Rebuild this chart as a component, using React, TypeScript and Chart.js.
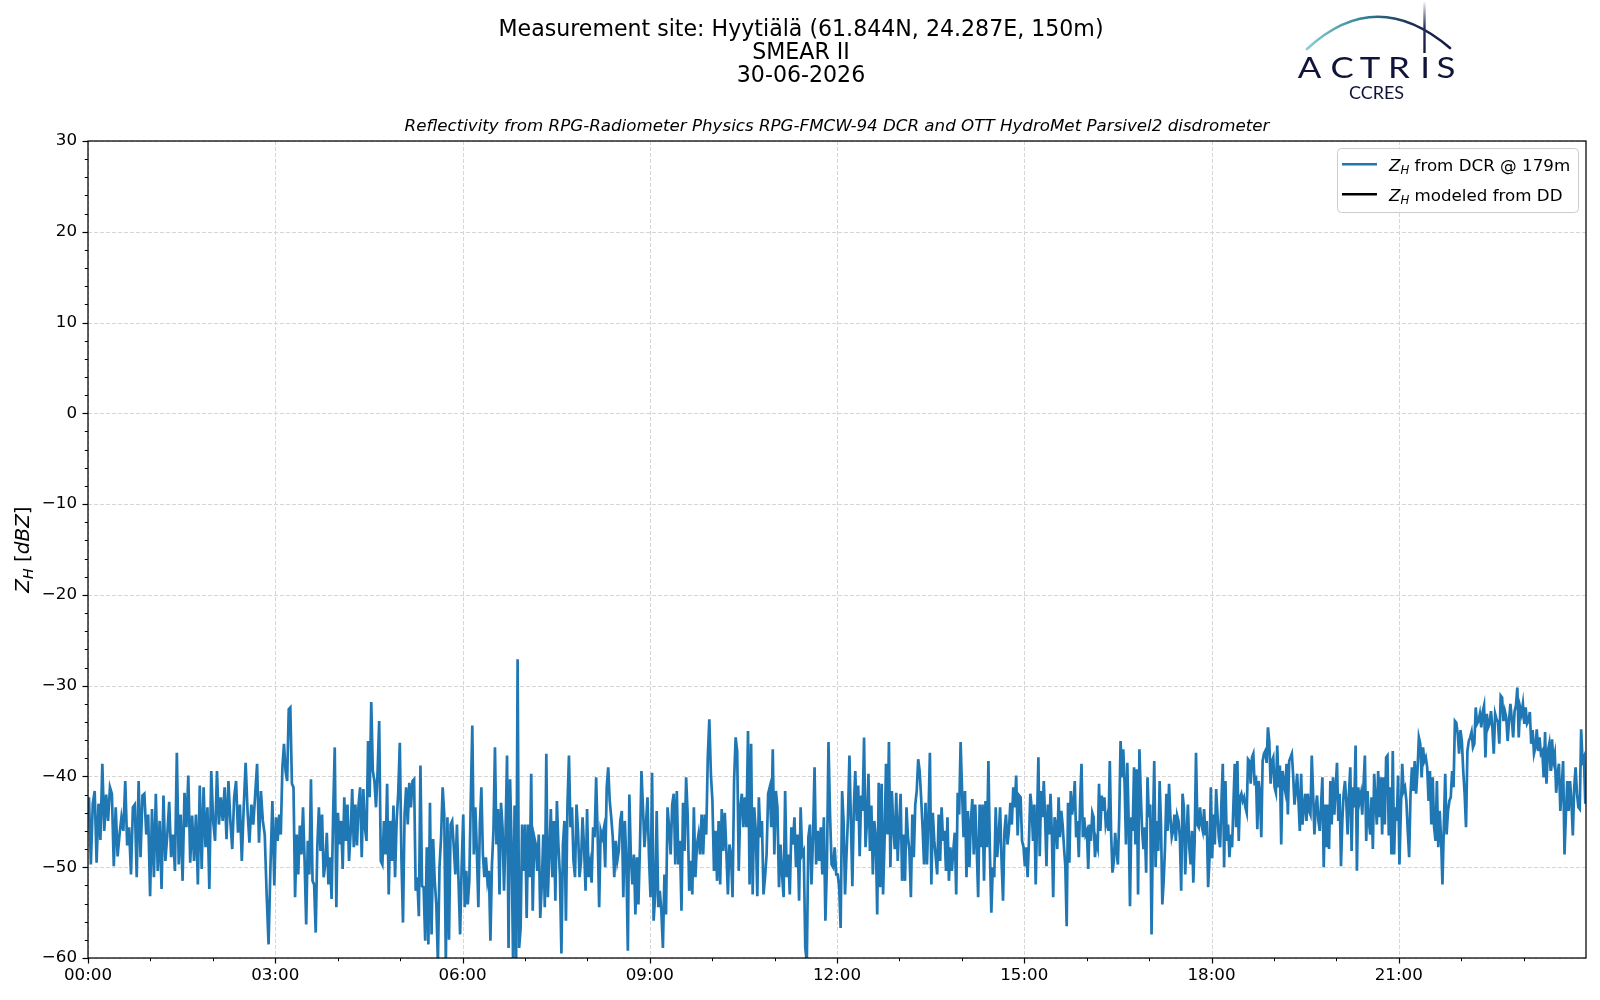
import React, { useEffect, useRef } from "react";
import { Chart, registerables } from "chart.js";

Chart.register(...registerables);

// ---------------- text ----------------
const TITLE_LINES = [
  "Measurement site: Hyytiälä (61.844N, 24.287E, 150m)",
  "SMEAR II",
  "30-06-2026",
];
const SUBTITLE =
  "Reflectivity from RPG-Radiometer Physics RPG-FMCW-94 DCR and OTT HydroMet Parsivel2 disdrometer";
const LOGO_LETTERS = ["A", "C", "T", "R", "I", "S"];
const LOGO_SUB = "CCRES";
const LEGEND_DCR = " from DCR @ 179m";
const LEGEND_DD = " modeled from DD";
const YLABEL_UNIT = "dBZ";

// ---------------- axes ----------------
const X_TICK_HOURS = [0, 3, 6, 9, 12, 15, 18, 21];
const Y_TICKS = [-60, -50, -40, -30, -20, -10, 0, 10, 20, 30];
const X_MIN = 0;
const X_MAX = 24;
const Y_MIN = -60;
const Y_MAX = 30;
const BLOCK_HOURS = 3;

// ---------------- data: Z_H from DCR @ 179m, dBZ, in 3-hour blocks ----------------
const zh00 = [-42.3, -49.7, -43, -41.6, -49.5, -43, -47, -38.6, -46, -42, -44.9, -41.2, -41.9, -49.9, -43.4, -48.8, -46.4, -44.5, -46, -40.5, -47.6, -45.6, -50.8, -43.4, -43.1, -51.1, -40.5, -48.9, -42.1, -41.9, -46.4, -44.2, -53.2, -43.6, -51.1, -41.9, -50.4, -44.9, -52.4, -42.1, -49.3, -46.4, -42.8, -48.9, -46.4, -50.4, -37.4, -49.7, -44.2, -51.5, -41.8, -45.6, -39.9, -49.5, -44.3, -49.3, -44.2, -51.9, -41, -50.2, -41.2, -47.8, -43.4, -52.4, -39.4, -44.9, -47.1, -39.4, -45.3, -42.3, -44.9, -41.2, -46.9, -40.5, -44.9, -48, -42.3, -40.5, -46.2, -43.1, -49.3, -43.4, -38.5, -43.8, -47.3, -43.1, -45.3, -42, -38.6, -47.3, -41.6, -44.9, -46.4, -53, -58.5, -49.9, -42.7, -52];
const zh03 = [-44.5, -47.1, -44.2, -46.4, -39, -36.4, -39.4, -40.5, -32.6, -32.4, -40.8, -41.2, -53.3, -46.4, -50.8, -45.4, -48.6, -43.4, -49.3, -56.3, -47.1, -50.8, -40.3, -51.5, -51.9, -57.2, -47.8, -43.4, -48.2, -44.2, -51.1, -49.7, -46.2, -51.9, -48.9, -53.5, -44, -36.8, -54.4, -44, -47.5, -44.9, -50.2, -42.3, -47.1, -43.1, -49.3, -46.2, -41.4, -47.8, -43.1, -47.6, -43.1, -41.2, -48.9, -41.4, -45.6, -47.1, -36.1, -42.3, -31.8, -39.4, -40.5, -43.4, -39.4, -33.9, -49.3, -49.7, -44.9, -48.6, -40.8, -53, -44.9, -49.3, -43.2, -51.1, -44.9, -41.8, -36.3, -48.9, -56.1, -44.2, -41.2, -45.3, -40.7, -43.4, -40.5, -40.3, -52.6, -51.1, -55.4, -38.8, -52.1, -52.2, -58.1, -47.8, -58.5, -42.9, -57.4, -46.9, -51.5, -54.1, -60.5, -50, -46.7, -41.2, -44.2, -60.5, -44.5, -58, -45.3, -44.9, -47.8, -50.8, -45.3, -51.5, -57.4, -49.7];
const zh06 = [-44.2, -54.4, -50.4, -54.1, -51.5, -42.3, -34.4, -48.6, -43.4, -48.2, -54.4, -45.3, -41.2, -48.6, -51.1, -48.9, -51.5, -50.4, -58.1, -49.7, -46, -36.8, -47.5, -43.6, -53, -42.9, -45.6, -52.6, -46.4, -37.7, -58.9, -40.3, -47.5, -60.5, -43.2, -60.5, -27.1, -58.9, -56.7, -45.3, -50.4, -45.3, -55.6, -45.3, -51.1, -39.7, -54.8, -46.7, -47.5, -50.4, -46.4, -55.6, -51.9, -46.4, -54.4, -37.5, -53.3, -48.6, -43.6, -51.1, -44.9, -53.7, -42.7, -47.5, -50.8, -59.5, -47.5, -44.9, -55.9, -43.2, -37.7, -45.6, -43.4, -49.3, -51.1, -43.1, -46, -51.1, -49.3, -44.5, -47.8, -52.6, -43.6, -51.1, -49.7, -51.7, -45.6, -46.7, -40.1, -46.4, -54.4, -46, -46.7, -45.8, -50, -41.2, -39, -42.7, -44.5, -46.7, -51.1, -47.1, -49.3, -48.2, -44.9, -43.8, -53.3, -44.9, -49.3, -59.2, -42, -48.9, -51.9, -48.6, -55.2, -48.9, -54.1, -47.8, -39.4, -43.4, -47.8, -45.3, -42.3, -48.9];
const zh09 = [-53.3, -39.6, -55.9, -53, -43.8, -54.4, -52.6, -54.8, -58.9, -50.8, -55.2, -43.4, -45.6, -48.6, -43.1, -41.9, -49.7, -41.6, -49.7, -47.1, -54.8, -42.9, -48.2, -40.1, -44.2, -52.6, -49.3, -53, -43.4, -51.1, -47.5, -46.4, -48.6, -44.2, -48.6, -44.2, -46.4, -37.9, -33.7, -39.7, -42.7, -50.4, -46, -51.5, -44.9, -51.9, -43.6, -48.2, -44, -48.2, -53, -47.5, -48.6, -53.3, -40.5, -35.7, -37.2, -50.4, -43.4, -41.9, -45.6, -42.3, -45.6, -35, -51.9, -36.4, -53, -43.4, -46, -53.2, -42.3, -46.7, -44.9, -53, -51.1, -48.6, -41.9, -41.2, -45.6, -37, -48.6, -41.6, -43.4, -52.2, -47.5, -50.8, -53.3, -41.6, -51.1, -48.6, -53, -45.6, -47.5, -44.5, -50, -46.4, -53.7, -43.4, -48.6, -48.2, -58.9, -60.5, -46.7, -45.3, -51.9, -46.7, -39, -49.7, -46, -49.3, -45.6, -50.8, -44.5, -55.9, -49.7, -36.2, -44.2, -49.7, -50, -47.8, -50.8];
const zh12 = [-50.8, -52.2, -56.7, -41.6, -44.9, -53, -48.6, -44.5, -37.7, -44.9, -52.1, -43.4, -39.4, -44.9, -41, -48.8, -42.1, -43.8, -35.7, -47.8, -44.9, -39.7, -48.2, -43.2, -50.8, -44.9, -46.7, -55.2, -40.7, -52.2, -40.8, -53, -47.1, -38.6, -46.4, -36.2, -50, -41.6, -45.6, -48, -41.8, -49.3, -45.3, -41.9, -51.5, -46.4, -51.5, -43.4, -46.7, -48.2, -53.3, -44.2, -48.9, -43.1, -41.6, -38.1, -39.4, -42.3, -45.6, -49.7, -42.9, -49.7, -44.5, -37.4, -51.9, -44, -47.1, -48.9, -50.8, -44.2, -49.3, -43.4, -47.1, -46, -50.4, -44.5, -51.5, -47.8, -50.4, -48.2, -46.2, -53, -41.8, -44.2, -36.2, -41.6, -46.7, -41.6, -51.1, -43.8, -50, -44.9, -42.5, -48.6, -43.1, -47.8, -53.3, -43.1, -47.8, -43.1, -51.5, -42.7, -47.8, -38.3, -48.2, -55, -50, -51.1, -43.4, -48.9, -46.7, -43.4, -49.3, -53.7, -46, -44.2, -47.5, -46, -42.9, -45.3, -41.2, -43.4, -39.9, -46.5, -42.1, -42.3, -47.1, -47.8];
const zh15 = [-49.9, -47.8, -51.1, -47.1, -41.9, -43.4, -47.1, -43.1, -51.9, -44.9, -37.9, -48.8, -41.6, -44.5, -40.5, -44.7, -49.9, -43.1, -46.4, -41.9, -46.4, -53.3, -44.5, -45.3, -48, -42.3, -46.7, -43.8, -45.3, -47.8, -49.9, -56.5, -42.9, -49.5, -41.6, -44.2, -43.1, -40.5, -46.7, -44.9, -48.9, -42.7, -38.6, -46.7, -44.5, -46.4, -46, -50.2, -45.3, -47.1, -44, -44.5, -48.9, -47.1, -47.8, -40.8, -46, -42.1, -43.8, -42.3, -45.3, -44.5, -46, -38.3, -46.4, -50.6, -49.3, -46.2, -48.2, -49.7, -44.5, -36.1, -40.1, -37, -40.8, -47.5, -38.5, -44.9, -54.3, -44.5, -46, -39, -47.5, -39.2, -53, -37, -42, -46, -48, -45.6, -50.6, -40.1, -44.5, -43.1, -57.4, -46, -38.3, -50, -44.9, -48.2, -40.5, -45.3, -54.1, -51.5, -47.8, -41.9, -46, -40.8, -44.5, -46.7, -46, -44.2, -47.1, -44.3, -44.9, -46.7, -52.6, -41.9, -43.4, -50.8, -46.4, -43.1, -47.8, -49.7, -46, -51.7, -47.1, -37.4, -45.3, -45.6, -43.4, -45.3, -46, -43.6, -46.5, -44.9, -52.2, -49, -41.2];
const zh18 = [-49, -44.2, -47.5, -41.4, -44.2, -46.7, -47.8, -42.7, -38.6, -50, -40.5, -47.1, -45.3, -48.9, -46.4, -47.8, -43.1, -38.6, -45.6, -38.3, -47.1, -42.3, -41.9, -42.7, -42.3, -43.4, -44, -38.1, -38.3, -40.8, -37.9, -37.5, -41, -39.9, -45.8, -40.5, -41.9, -46.7, -38.3, -37.5, -37.2, -38.5, -34.6, -36.1, -40.8, -38.3, -37.9, -41.2, -41.8, -36.6, -41.2, -38.8, -47.5, -39.4, -40.8, -41.6, -38.6, -44.2, -38.3, -37.9, -37.5, -39.9, -43.1, -41.6, -39.7, -42.7, -46, -39.7, -45.3, -43.4, -41.9, -44.9, -41.9, -43.8, -44.2, -37.7, -41.9, -46.4, -43.4, -42.1, -44.9, -46, -43.1, -40.1, -50, -43.1, -47.8, -43.1, -48, -40.5, -45.3, -40.1, -44.2, -41.2, -38.5, -44.9, -41.9, -49.9, -44.9, -41.9, -40.5, -42.7, -46.4, -41.9, -39, -48.2, -41.2, -43.4, -36.6, -50.4, -41.2, -42.7, -41.9, -44.2, -40.8, -37.7, -47.1, -41.6, -44.9, -46.4, -42.3, -48, -39.7, -42.7, -45.3, -39.4, -44.5, -40.1, -46.4, -40.1, -45.3, -37.9, -37.7, -46.5, -41.2, -48.6, -37.2, -48.6, -43.4, -44.9, -39.9];
const zh21 = [-49.7, -43.8, -38.6, -41.6, -41.2, -42.7, -46, -48.9, -41.9, -39, -41.6, -38.3, -41.9, -39.4, -35.7, -36.4, -40.1, -36.8, -38.3, -37.9, -39, -42.7, -39.4, -45.3, -40.1, -45.6, -47.1, -40.5, -47.8, -43.8, -46.7, -51.9, -45.6, -39.7, -46.4, -43.8, -42.7, -42.3, -39.4, -41.2, -33.9, -34.1, -35.3, -37.5, -34.9, -36.1, -39.4, -41.9, -45.6, -37.2, -36.1, -35.7, -35.1, -36.8, -36.4, -32.4, -34.2, -33.9, -33.1, -34.6, -32.9, -32.2, -37.9, -33.1, -34.6, -34.2, -32.8, -34.6, -37.5, -33.1, -33.7, -34, -36.4, -31.1, -31.3, -33.9, -32.8, -33.5, -36.1, -33.9, -32, -33.7, -35.7, -32.8, -32.2, -30.2, -35.7, -32.4, -33.1, -32, -34.2, -32.4, -34.2, -33.9, -32.9, -36.4, -34.9, -37.5, -36.8, -34.8, -37.2, -35.7, -37.5, -37.2, -40.1, -35.1, -40.8, -37.2, -36.4, -39.4, -35.9, -38.3, -37.5, -41.8, -39.7, -38.6, -43.8, -41.2, -38.3, -48.6, -44.2, -40.5, -43.8, -40.5, -42.7, -46.5, -41.2, -39, -41.9, -43.4, -43.6, -34.8, -38.3, -37.9, -43];
const DCR_BLOCKS = [zh00, zh03, zh06, zh09, zh12, zh15, zh18, zh21];
// modeled Z_H from the disdrometer: no values in view
const zhModeledDD: number[] = [];

const FONT = "'DejaVu Sans', sans-serif";
const LOGO_FONT = "Lato, 'Open Sans', sans-serif";
const DCR_COLOR = "#1f77b4";

function buildDcrPoints() {
  const pts: { x: number; y: number }[] = [];
  DCR_BLOCKS.forEach((blk, b) => {
    const n = blk.length;
    blk.forEach((v, i) => {
      pts.push({ x: b * BLOCK_HOURS + (BLOCK_HOURS * (i + 0.5)) / n, y: v });
    });
  });
  return pts;
}

function drawZH(ctx: CanvasRenderingContext2D, x: number, y: number, size: number) {
  ctx.font = `italic ${size}px ${FONT}`;
  ctx.fillText("Z", x, y);
  let w = ctx.measureText("Z").width;
  const sub = size * 0.7;
  ctx.font = `italic ${sub}px ${FONT}`;
  ctx.fillText("H", x + w, y + size * 0.22);
  w += ctx.measureText("H").width;
  return w;
}

const decorPlugin = {
  id: "decor",
  beforeDatasetsDraw(chart: any) {
    const { ctx, chartArea: a, scales } = chart;
    const xs = scales.x;
    const ys = scales.y;
    ctx.save();
    ctx.strokeStyle = "#d6d6d6";
    ctx.lineWidth = 1;
    ctx.setLineDash([4, 2]);
    for (const h of X_TICK_HOURS) {
      const px = Math.round(xs.getPixelForValue(h)) + 0.5;
      ctx.beginPath();
      ctx.moveTo(px, a.top);
      ctx.lineTo(px, a.bottom);
      ctx.stroke();
    }
    for (const v of Y_TICKS) {
      const py = Math.round(ys.getPixelForValue(v)) + 0.5;
      ctx.beginPath();
      ctx.moveTo(a.left, py);
      ctx.lineTo(a.right, py);
      ctx.stroke();
    }
    ctx.restore();
  },
  afterDatasetsDraw(chart: any) {
    const { ctx, chartArea: a, scales } = chart;
    const xs = scales.x;
    const ys = scales.y;
    ctx.save();
    ctx.setLineDash([]);
    ctx.strokeStyle = "#000";
    for (let v = Y_MIN; v <= Y_MAX; v += 2) {
      const py = Math.round(ys.getPixelForValue(v)) + 0.5;
      const major = Y_TICKS.includes(v);
      ctx.lineWidth = major ? 1.2 : 1;
      ctx.beginPath();
      ctx.moveTo(a.left - (major ? 5.5 : 3.2), py);
      ctx.lineTo(a.left, py);
      ctx.stroke();
    }
    for (let h = X_MIN; h < X_MAX; h += 1) {
      const px = Math.round(xs.getPixelForValue(h)) + 0.5;
      const major = X_TICK_HOURS.includes(h);
      ctx.lineWidth = major ? 1.2 : 1;
      ctx.beginPath();
      ctx.moveTo(px, a.bottom);
      ctx.lineTo(px, a.bottom + (major ? 5.5 : 3.2));
      ctx.stroke();
    }
    ctx.lineWidth = 1.25;
    ctx.strokeRect(a.left, a.top, a.right - a.left, a.bottom - a.top);
    ctx.restore();
  },
  afterDraw(chart: any) {
    const { ctx, chartArea: a } = chart;
    ctx.save();
    ctx.fillStyle = "#000";
    // figure title
    ctx.textAlign = "center";
    ctx.textBaseline = "middle";
    ctx.font = `22.1px ${FONT}`;
    const titleY = [30.4, 52.9, 76.2];
    TITLE_LINES.forEach((t, i) => ctx.fillText(t, 801, titleY[i]));
    // axes title
    ctx.textBaseline = "alphabetic";
    ctx.font = `italic 16.7px ${FONT}`;
    ctx.fillText(SUBTITLE, (a.left + a.right) / 2, 131);

    // y label
    ctx.save();
    ctx.translate(29, (a.top + a.bottom) / 2);
    ctx.rotate(-Math.PI / 2);
    ctx.textAlign = "left";
    const ls = 20;
    ctx.font = `italic ${ls}px ${FONT}`;
    const wZ = ctx.measureText("Z").width;
    ctx.font = `italic ${ls * 0.7}px ${FONT}`;
    const wH = ctx.measureText("H").width;
    ctx.font = `${ls}px ${FONT}`;
    const wOpen = ctx.measureText(" [").width;
    const wClose = ctx.measureText("]").width;
    ctx.font = `italic ${ls}px ${FONT}`;
    const wUnit = ctx.measureText(YLABEL_UNIT).width;
    const total = wZ + wH + wOpen + wUnit + wClose;
    let cx = -total / 2;
    cx += drawZH(ctx, cx, 0, ls);
    ctx.font = `${ls}px ${FONT}`;
    ctx.fillText(" [", cx, 0);
    cx += wOpen;
    ctx.font = `italic ${ls}px ${FONT}`;
    ctx.fillText(YLABEL_UNIT, cx, 0);
    cx += wUnit;
    ctx.font = `${ls}px ${FONT}`;
    ctx.fillText("]", cx, 0);
    ctx.restore();

    // legend
    ctx.save();
    ctx.beginPath();
    (ctx as any).roundRect(1337.5, 148.5, 241, 64, 4);
    ctx.fillStyle = "rgba(255,255,255,0.8)";
    ctx.fill();
    ctx.strokeStyle = "#cccccc";
    ctx.lineWidth = 1;
    ctx.stroke();
    const rows = [
      { color: DCR_COLOR, text: LEGEND_DCR, y: 164.3 },
      { color: "#000000", text: LEGEND_DD, y: 194.3 },
    ];
    for (const r of rows) {
      ctx.strokeStyle = r.color;
      ctx.lineWidth = 2.6;
      ctx.beginPath();
      ctx.moveTo(1342, r.y);
      ctx.lineTo(1377, r.y);
      ctx.stroke();
      ctx.fillStyle = "#000";
      ctx.textAlign = "left";
      ctx.textBaseline = "alphabetic";
      const w = drawZH(ctx, 1389, r.y + 6.2, 16.7);
      ctx.font = `16.7px ${FONT}`;
      ctx.fillText(r.text, 1389 + w, r.y + 6.2);
    }
    ctx.restore();

    // logo
    ctx.save();
    const g = ctx.createLinearGradient(1307, 0, 1450, 0);
    g.addColorStop(0, "#86d0cf");
    g.addColorStop(0.4, "#2f8192");
    g.addColorStop(0.75, "#1b2a55");
    g.addColorStop(1, "#161a42");
    ctx.strokeStyle = g;
    ctx.lineWidth = 2.6;
    ctx.lineCap = "round";
    ctx.beginPath();
    ctx.moveTo(1307, 49);
    ctx.quadraticCurveTo(1376, -15, 1450, 48);
    ctx.stroke();
    const gv = ctx.createLinearGradient(0, 2, 0, 53);
    gv.addColorStop(0, "rgba(22,26,66,0.05)");
    gv.addColorStop(0.5, "#2a2e5a");
    gv.addColorStop(1, "#161a42");
    ctx.strokeStyle = gv;
    ctx.lineWidth = 2.4;
    ctx.lineCap = "butt";
    ctx.beginPath();
    ctx.moveTo(1424.5, 2);
    ctx.lineTo(1424.5, 53);
    ctx.stroke();
    ctx.fillStyle = "#10143a";
    ctx.textAlign = "center";
    ctx.textBaseline = "alphabetic";
    ctx.font = `29px ${LOGO_FONT}`;
    const centers = [1309.5, 1342, 1370, 1399, 1425, 1446];
    LOGO_LETTERS.forEach((ch, i) => {
      ctx.save();
      ctx.translate(centers[i], 78);
      ctx.scale(1.2, 1);
      ctx.fillText(ch, 0, 0);
      ctx.restore();
    });
    ctx.font = `18px ${LOGO_FONT}`;
    ctx.fillText(LOGO_SUB, 1376.5, 99);
    ctx.restore();

    ctx.restore();
  },
};

export default function App() {
  const ref = useRef<HTMLCanvasElement | null>(null);
  useEffect(() => {
    document.body.style.margin = "0";
    document.body.style.background = "#fff";
    if (!ref.current) return;
    const chart = new Chart(ref.current, {
      type: "line",
      data: {
        datasets: [
          {
            label: "Z_H from DCR @ 179m",
            data: buildDcrPoints(),
            borderColor: DCR_COLOR,
            backgroundColor: DCR_COLOR,
            borderWidth: 2.7,
            pointRadius: 0,
            tension: 0,
            fill: false,
            clip: 0,
          } as any,
          {
            label: "Z_H modeled from DD",
            data: zhModeledDD as any,
            borderColor: "#000000",
            borderWidth: 2.7,
            pointRadius: 0,
            fill: false,
          },
        ],
      },
      options: {
        animation: false,
        responsive: false,
        maintainAspectRatio: false,
        devicePixelRatio: 1,
        parsing: false as any,
        normalized: true,
        events: [],
        layout: { padding: { left: 0, top: 141, right: 14, bottom: 0 } },
        plugins: {
          legend: { display: false },
          title: { display: false },
          tooltip: { enabled: false },
        },
        scales: {
          x: {
            type: "linear",
            min: X_MIN,
            max: X_MAX,
            afterBuildTicks: (s: any) => {
              s.ticks = X_TICK_HOURS.map((v) => ({ value: v }));
            },
            afterFit: (s: any) => {
              s.height = 42;
            },
            ticks: {
              autoSkip: false,
              maxRotation: 0,
              padding: 8,
              color: "#000",
              font: { family: "DejaVu Sans", size: 16.7 },
              callback: (v: any) => String(v).padStart(2, "0") + ":00",
            },
            grid: { display: false, drawTicks: false },
            border: { display: false },
          },
          y: {
            type: "linear",
            min: Y_MIN,
            max: Y_MAX,
            afterBuildTicks: (s: any) => {
              s.ticks = Y_TICKS.map((v) => ({ value: v }));
            },
            afterFit: (s: any) => {
              s.width = 88;
            },
            ticks: {
              autoSkip: false,
              padding: 11,
              color: "#000",
              font: { family: "DejaVu Sans", size: 16.7 },
              callback: (v: any) => (v < 0 ? "\u2212" + Math.abs(v) : String(v)),
            },
            grid: { display: false, drawTicks: false },
            border: { display: false },
          },
        },
      },
      plugins: [decorPlugin],
    });
    return () => chart.destroy();
  }, []);
  return (
    <div style={{ width: 1600, height: 1000, background: "#fff" }}>
      <canvas ref={ref} width={1600} height={1000} style={{ display: "block" }} />
    </div>
  );
}
